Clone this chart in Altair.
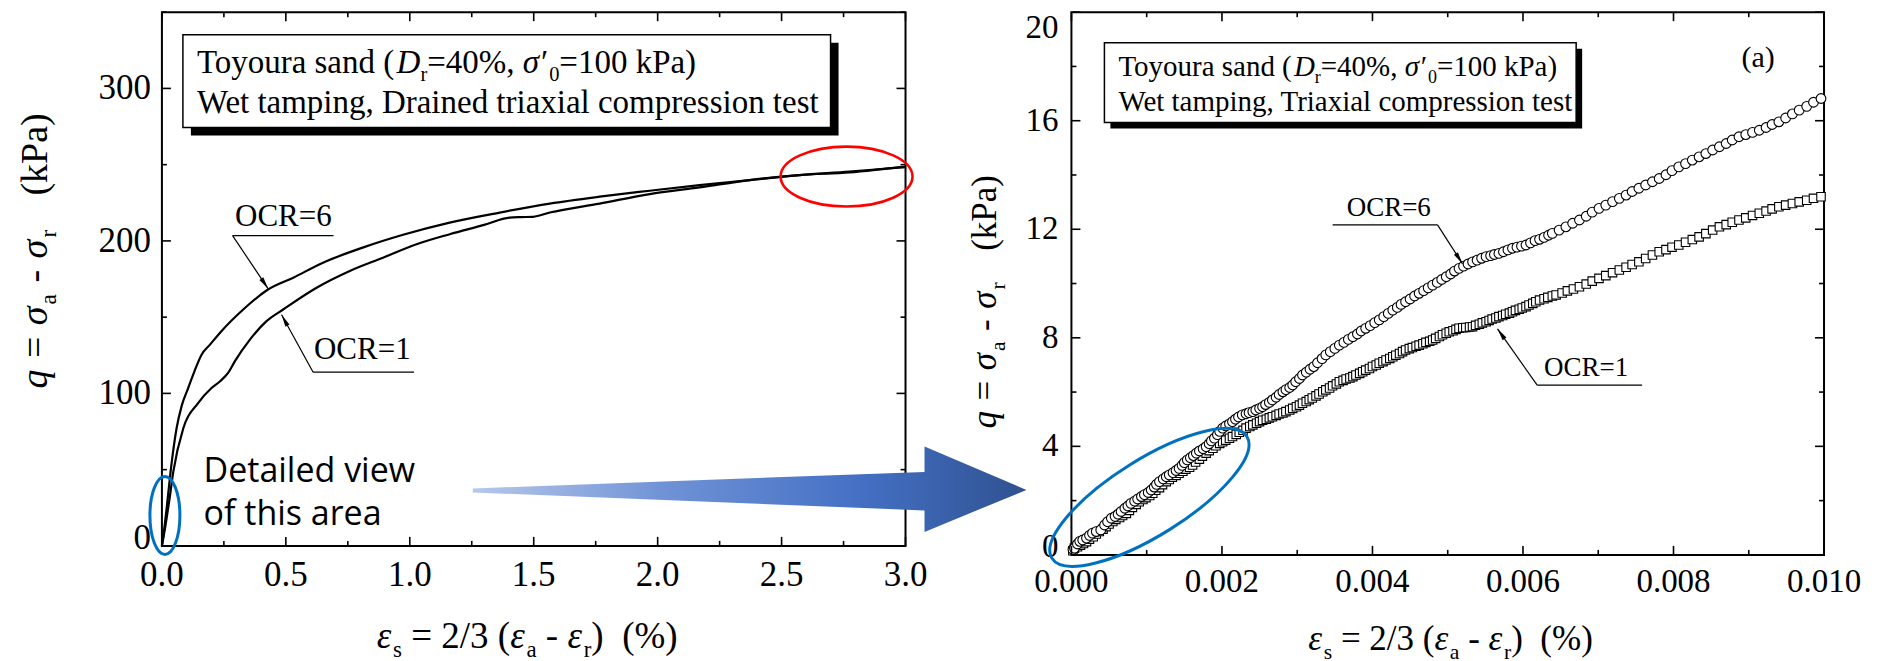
import math
import altair as alt
import pandas as pd

# ---------------- data ----------------
# Left panel: full stress-strain curves (x in %, q in kPa)
L_OCR6_X = [0, 0.010, 0.020, 0.035, 0.059, 0.080, 0.106, 0.130, 0.160, 0.194, 0.240, 0.328, 0.422, 0.530,
            0.650, 0.810, 0.973, 1.161, 1.363, 1.565, 1.766, 1.968, 2.169, 2.371, 2.573, 2.774, 2.976, 3.0]
L_OCR6_Y = [0, 12, 26, 48.7, 77, 92, 103.5, 114, 125.4, 132, 140.8, 155, 167.5, 175.9,
            185.7, 195.6, 204.0, 212, 218.6, 224.5, 229, 232.9, 236.6, 239.9, 243.2, 245.4, 248.2, 248.5]
L_OCR1_X = [0, 0.015, 0.030, 0.046, 0.086, 0.146, 0.200, 0.235, 0.267, 0.294, 0.355, 0.422, 0.489, 0.624,
            0.758, 0.892, 1.027, 1.161, 1.300, 1.403, 1.450, 1.497, 1.565, 1.766, 1.968, 2.169, 2.371,
            2.573, 2.774, 2.976, 3.0]
L_OCR1_Y = [0, 14, 30, 48.7, 77, 93.6, 103.5, 108, 113.4, 121, 135.3, 147.4, 155, 169.3,
            180.3, 189, 197.8, 204.4, 210.5, 215.3, 215.6, 215.8, 218.6, 224.5, 230.7, 235.1, 239.9,
            243.2, 244.9, 248.2, 248.5]

# Right panel: detailed view. Strain values listed in units of 1e-3 %, q in kPa
R_OCR6_XE3 = [0.02, 0.04, 0.08, 0.11, 0.15, 0.20, 0.24, 0.28, 0.33, 0.39, 0.44, 0.48, 0.53, 0.58, 0.62,
              0.66, 0.71, 0.75, 0.79, 0.84, 0.88, 0.93, 0.97, 1.02, 1.06, 1.10, 1.13, 1.17, 1.22, 1.26,
              1.30, 1.35, 1.39, 1.43, 1.47, 1.50, 1.54, 1.58, 1.62, 1.66, 1.70, 1.75, 1.79, 1.83, 1.86,
              1.90, 1.94, 1.97, 2.01, 2.05, 2.10, 2.14, 2.18, 2.22, 2.27, 2.32, 2.36, 2.41, 2.45, 2.50,
              2.54, 2.58, 2.63, 2.67, 2.72, 2.76, 2.81, 2.85, 2.90, 2.94, 2.98, 3.03, 3.07, 3.12, 3.17,
              3.22, 3.27, 3.33, 3.38, 3.44, 3.50, 3.56, 3.62, 3.68, 3.74, 3.80, 3.85, 3.91, 3.97, 4.03,
              4.09, 4.15, 4.21, 4.27, 4.33, 4.38, 4.44, 4.50, 4.56, 4.62, 4.68, 4.74, 4.80, 4.86, 4.92,
              4.98, 5.04, 5.09, 5.15, 5.21, 5.27, 5.33, 5.39, 5.45, 5.51, 5.57, 5.62, 5.68, 5.74, 5.80,
              5.86, 5.92, 5.98, 6.04, 6.10, 6.16, 6.22, 6.28, 6.34, 6.39, 6.48, 6.57, 6.66, 6.75, 6.84,
              6.92, 7.01, 7.10, 7.19, 7.28, 7.37, 7.45, 7.54, 7.63, 7.72, 7.81, 7.90, 7.98, 8.07, 8.16,
              8.25, 8.34, 8.43, 8.52, 8.61, 8.70, 8.78, 8.87, 8.96, 9.05, 9.14, 9.23, 9.31, 9.40, 9.49,
              9.58, 9.67, 9.77, 9.86, 9.96]
R_OCR6_Y = [0.20, 0.25, 0.40, 0.50, 0.55, 0.62, 0.72, 0.80, 0.86, 0.92, 1.10, 1.22, 1.35, 1.42, 1.50,
            1.60, 1.72, 1.80, 1.90, 1.98, 2.06, 2.15, 2.22, 2.30, 2.39, 2.50, 2.60, 2.70, 2.80, 2.88,
            2.95, 3.03, 3.11, 3.19, 3.30, 3.40, 3.50, 3.58, 3.66, 3.75, 3.83, 3.91, 3.99, 4.10, 4.20,
            4.30, 4.43, 4.55, 4.67, 4.75, 4.83, 4.91, 5.00, 5.08, 5.16, 5.20, 5.24, 5.28, 5.34, 5.40,
            5.46, 5.54, 5.62, 5.71, 5.81, 5.91, 6.01, 6.09, 6.17, 6.26, 6.38, 6.50, 6.63, 6.73, 6.84,
            6.94, 7.08, 7.23, 7.37, 7.49, 7.61, 7.73, 7.83, 7.94, 8.04, 8.14, 8.25, 8.35, 8.45, 8.56,
            8.66, 8.78, 8.90, 9.02, 9.12, 9.23, 9.33, 9.43, 9.54, 9.64, 9.74, 9.84, 9.94, 10.04, 10.15,
            10.25, 10.35, 10.46, 10.56, 10.64, 10.72, 10.80, 10.86, 10.93, 10.99, 11.03, 11.07, 11.11, 11.17, 11.24,
            11.30, 11.34, 11.38, 11.42, 11.50, 11.58, 11.63, 11.70, 11.78, 11.85, 11.97, 12.09, 12.22, 12.34, 12.48,
            12.63, 12.77, 12.89, 13.02, 13.14, 13.26, 13.39, 13.51, 13.63, 13.75, 13.87, 14.01, 14.16, 14.30, 14.42,
            14.55, 14.67, 14.79, 14.92, 15.04, 15.16, 15.29, 15.41, 15.49, 15.57, 15.65, 15.75, 15.86, 15.96, 16.10,
            16.25, 16.39, 16.53, 16.68, 16.82]
R_OCR1_XE3 = [0.02, 0.04, 0.08, 0.12, 0.16, 0.20, 0.24, 0.29, 0.33, 0.37, 0.42, 0.46, 0.50, 0.55, 0.59,
              0.64, 0.68, 0.73, 0.77, 0.81, 0.86, 0.90, 0.95, 0.99, 1.04, 1.08, 1.12, 1.17, 1.21, 1.26,
              1.30, 1.34, 1.39, 1.43, 1.48, 1.52, 1.57, 1.61, 1.65, 1.70, 1.74, 1.79, 1.83, 1.88, 1.92,
              1.97, 2.01, 2.05, 2.10, 2.14, 2.19, 2.23, 2.28, 2.32, 2.37, 2.41, 2.46, 2.50, 2.54, 2.59,
              2.63, 2.67, 2.72, 2.76, 2.81, 2.85, 2.90, 2.94, 2.99, 3.03, 3.07, 3.12, 3.16, 3.20, 3.25,
              3.29, 3.34, 3.38, 3.43, 3.47, 3.52, 3.56, 3.61, 3.65, 3.70, 3.74, 3.78, 3.83, 3.87, 3.91,
              3.96, 4.00, 4.05, 4.09, 4.14, 4.18, 4.23, 4.27, 4.31, 4.36, 4.40, 4.44, 4.49, 4.53, 4.58,
              4.62, 4.67, 4.71, 4.76, 4.80, 4.84, 4.89, 4.93, 4.98, 5.02, 5.07, 5.11, 5.15, 5.20, 5.24,
              5.29, 5.33, 5.37, 5.42, 5.46, 5.51, 5.55, 5.59, 5.64, 5.68, 5.73, 5.77, 5.82, 5.86, 5.90,
              5.95, 5.99, 6.04, 6.08, 6.13, 6.17, 6.22, 6.28, 6.33, 6.39, 6.44, 6.52, 6.59, 6.67, 6.75,
              6.84, 6.92, 7.01, 7.10, 7.19, 7.28, 7.37, 7.45, 7.54, 7.63, 7.72, 7.81, 7.90, 7.98, 8.07,
              8.16, 8.25, 8.34, 8.43, 8.52, 8.61, 8.70, 8.78, 8.87, 8.96, 9.05, 9.14, 9.23, 9.31, 9.40,
              9.49, 9.58, 9.67, 9.77, 9.86, 9.96]
R_OCR1_Y = [0.15, 0.25, 0.30, 0.36, 0.42, 0.49, 0.58, 0.67, 0.77, 0.86, 0.95, 1.04, 1.14, 1.23, 1.31,
            1.38, 1.45, 1.53, 1.64, 1.75, 1.86, 1.96, 2.04, 2.11, 2.19, 2.27, 2.38, 2.48, 2.59, 2.70,
            2.78, 2.86, 2.93, 3.01, 3.08, 3.16, 3.23, 3.31, 3.42, 3.53, 3.64, 3.75, 3.84, 3.93, 4.02,
            4.11, 4.17, 4.23, 4.30, 4.36, 4.44, 4.52, 4.59, 4.67, 4.73, 4.79, 4.85, 4.91, 4.96, 5.00,
            5.05, 5.09, 5.14, 5.19, 5.23, 5.28, 5.34, 5.40, 5.46, 5.52, 5.59, 5.65, 5.72, 5.78, 5.86,
            5.93, 6.01, 6.08, 6.15, 6.23, 6.30, 6.38, 6.43, 6.48, 6.52, 6.57, 6.63, 6.69, 6.75, 6.81,
            6.87, 6.94, 7.00, 7.06, 7.12, 7.18, 7.24, 7.30, 7.36, 7.42, 7.49, 7.55, 7.60, 7.64, 7.69,
            7.73, 7.78, 7.83, 7.87, 7.92, 7.98, 8.05, 8.11, 8.17, 8.22, 8.26, 8.31, 8.35, 8.37, 8.38,
            8.40, 8.41, 8.46, 8.50, 8.55, 8.59, 8.64, 8.69, 8.73, 8.78, 8.82, 8.87, 8.91, 8.96, 9.01,
            9.05, 9.10, 9.15, 9.21, 9.27, 9.33, 9.39, 9.44, 9.49, 9.54, 9.58, 9.65, 9.73, 9.80, 9.88,
            9.98, 10.09, 10.19, 10.29, 10.40, 10.50, 10.60, 10.70, 10.80, 10.92, 11.05, 11.17, 11.25, 11.34, 11.42,
            11.52, 11.62, 11.72, 11.84, 11.97, 12.09, 12.17, 12.26, 12.34, 12.42, 12.51, 12.59, 12.67, 12.75, 12.83,
            12.89, 12.95, 13.01, 13.07, 13.14, 13.20]

# Tick values
L_X_MAJOR = [0.0, 0.5, 1.0, 1.5, 2.0, 2.5, 3.0]
L_X_MINOR = [0.25, 0.75, 1.25, 1.75, 2.25, 2.75]
L_Y_MAJOR = [0, 100, 200, 300]
L_Y_MINOR = [50, 150, 250, 350]
R_X_MAJOR = [0.0, 0.002, 0.004, 0.006, 0.008, 0.010]
R_X_MINOR = [0.001, 0.003, 0.005, 0.007, 0.009]
R_Y_MAJOR = [0, 4, 8, 12, 16, 20]
R_Y_MINOR = [2, 6, 10, 14, 18]

# ---------------- geometry ----------------
LW, LH = 744, 534
RW, RH = 753, 543
SERIF = "Liberation Serif"
SANS = "Open Sans"

LXS = alt.Scale(domain=[0, 3], nice=False, zero=False)
LYS = alt.Scale(domain=[0, 350], nice=False, zero=False)
RXS = alt.Scale(domain=[0, 0.01], nice=False, zero=False)
RYS = alt.Scale(domain=[0, 20], nice=False, zero=False)

W_REG = {' ': 0.25, '(': 0.333, ')': 0.333, '%': 0.833, ',': 0.25, '-': 0.333, '/': 0.278, '=': 0.564,
         'C': 0.667, 'D': 0.722, 'O': 0.722, 'P': 0.556, 'R': 0.667, 'T': 0.611, 'W': 0.944,
         'a': 0.444, 'c': 0.444, 'd': 0.5, 'e': 0.444, 'g': 0.5, 'i': 0.278, 'k': 0.5, 'l': 0.278,
         'm': 0.778, 'n': 0.5, 'o': 0.5, 'p': 0.5, 'r': 0.333, 's': 0.389, 't': 0.278, 'u': 0.5,
         'x': 0.5, 'y': 0.5, '′': 0.25, 'ε': 0.44, 'σ': 0.55, 'q': 0.5}
W_ITA = {'D': 0.722, 'q': 0.5, 'σ': 0.55, 'ε': 0.44, '′': 0.25}


def text_width(s, size, italic=False):
    tbl = W_ITA if italic else W_REG
    return sum(tbl.get(c, W_REG.get(c, 0.5)) for c in s) * size


ONE = pd.DataFrame({"k": [0]})


def txt(s, x, y, size, italic=False, angle=0, font=SERIF, align="left", baseline="alphabetic",
        color="black"):
    kw = dict(text=s, font=font, fontSize=size, align=align, baseline=baseline, color=color)
    if italic:
        kw["fontStyle"] = "italic"
    if angle:
        kw["angle"] = angle
    return alt.Chart(ONE).mark_text(**kw).encode(x=alt.value(x), y=alt.value(y))


def rich(segments, x0, y0, size, vertical=False, space=0.25):
    layers = []
    cur = 0.0
    for s, st in segments:
        if st == "s":
            sz, shift, ital = size * 0.62, size * 0.24, False
        else:
            sz, shift, ital = size, 0.0, (st == "i")
        lead = len(s) - len(s.lstrip(" "))
        trail = len(s) - len(s.rstrip(" "))
        cur += lead * space * sz
        body = s.strip(" ")
        if body:
            if vertical:
                layers.append(txt(body, x0 + shift, y0 - cur, sz, ital, angle=270))
            else:
                layers.append(txt(body, x0 + cur, y0 + shift, sz, ital))
            cur += text_width(body, sz, ital)
        cur += trail * space * sz
    return layers


def rule(x1, y1, x2, y2, w=1.2, color="black"):
    return alt.Chart(ONE).mark_rule(color=color, strokeWidth=w).encode(
        x=alt.value(x1), y=alt.value(y1), x2=alt.value(x2), y2=alt.value(y2))


HEAD = "M 0 0 L -0.38 2 L 0.38 2 Z"


def arrow(x1, y1, x2, y2):
    ang = math.degrees(math.atan2(x2 - x1, -(y2 - y1))) % 360
    head = alt.Chart(ONE).mark_point(shape=HEAD, size=150, filled=True, color="black", opacity=1,
                                     angle=ang).encode(x=alt.value(x2), y=alt.value(y2))
    return [rule(x1, y1, x2, y2), head]


def ellipse_path(r):
    k = 0.5523
    return (f"M 1 0 C 1 {k*r:.4f} {k:.4f} {r:.4f} 0 {r:.4f} C {-k:.4f} {r:.4f} -1 {k*r:.4f} -1 0 "
            f"C -1 {-k*r:.4f} {-k:.4f} {-r:.4f} 0 {-r:.4f} C {k:.4f} {-r:.4f} 1 {-k*r:.4f} 1 0 Z")


def ellipse(cx, cy, rx, ry, color, width=3, angle=0):
    kw = dict(shape=ellipse_path(ry / rx), size=(2 * rx) ** 2, filled=False, color=color,
              strokeWidth=width, opacity=1)
    if angle:
        kw["angle"] = angle
    return alt.Chart(ONE).mark_point(**kw).encode(x=alt.value(cx), y=alt.value(cy))


def box(x1, y1, x2, y2, off):
    shadow = alt.Chart(ONE).mark_rect(color="black").encode(
        x=alt.value(x1 + off), x2=alt.value(x2 + off), y=alt.value(y1 + off), y2=alt.value(y2 + off))
    face = alt.Chart(ONE).mark_rect(fill="white", stroke="black", strokeWidth=1.5).encode(
        x=alt.value(x1), x2=alt.value(x2), y=alt.value(y1), y2=alt.value(y2))
    return [shadow, face]


def tick_layers(xmaj, xmin, ymaj, ymin, xs, ys, W, H, lmaj=9, lmin=5):
    out = []
    for vals, ln in ((xmaj, lmaj), (xmin, lmin)):
        d = pd.DataFrame({"v": vals})
        out.append(alt.Chart(d).mark_rule(color="black", strokeWidth=1.6).encode(
            x=alt.X("v:Q", scale=xs, axis=None), y=alt.value(H), y2=alt.value(H - ln)))
        out.append(alt.Chart(d).mark_rule(color="black", strokeWidth=1.6).encode(
            x=alt.X("v:Q", scale=xs, axis=None), y=alt.value(0), y2=alt.value(ln)))
    for vals, ln in ((ymaj, lmaj), (ymin, lmin)):
        d = pd.DataFrame({"v": vals})
        out.append(alt.Chart(d).mark_rule(color="black", strokeWidth=1.6).encode(
            y=alt.Y("v:Q", scale=ys, axis=None), x=alt.value(0), x2=alt.value(ln)))
        out.append(alt.Chart(d).mark_rule(color="black", strokeWidth=1.6).encode(
            y=alt.Y("v:Q", scale=ys, axis=None), x=alt.value(W), x2=alt.value(W - ln)))
    return out


def x_labels(vals, fmt, xs, size, base):
    d = pd.DataFrame({"v": vals})
    return alt.Chart(d).mark_text(font=SERIF, fontSize=size, align="center", baseline="alphabetic",
                                  color="black").encode(
        x=alt.X("v:Q", scale=xs, axis=None), y=alt.value(base), text=alt.Text("v:Q", format=fmt))


def y_labels(vals, fmt, ys, size, pad, dy=0):
    d = pd.DataFrame({"v": vals})
    kw = dict(font=SERIF, fontSize=size, align="right", baseline="middle", color="black")
    if dy:
        kw["dy"] = dy
    return alt.Chart(d).mark_text(**kw).encode(
        y=alt.Y("v:Q", scale=ys, axis=None), x=alt.value(-pad), text=alt.Text("v:Q", format=fmt))


def anchors():
    # invisible marks fixing the top-left corner of the whole figure
    return [alt.Chart(ONE).mark_rule(opacity=0, strokeWidth=1).encode(
                x=alt.value(-153), y=alt.value(100), y2=alt.value(101)),
            alt.Chart(ONE).mark_rule(opacity=0, strokeWidth=1).encode(
                x=alt.value(10), x2=alt.value(11), y=alt.value(-40))]


# ---------------- left panel ----------------
l6 = pd.DataFrame({"x": L_OCR6_X, "q": L_OCR6_Y})
l1 = pd.DataFrame({"x": L_OCR1_X, "q": L_OCR1_Y})

left_layers = []
left_layers.append(alt.Chart(l1).mark_line(color="black", strokeWidth=2.2, interpolate="monotone").encode(
    x=alt.X("x:Q", scale=LXS, axis=None), y=alt.Y("q:Q", scale=LYS, axis=None), order="x:Q"))
left_layers.append(alt.Chart(l6).mark_line(color="black", strokeWidth=2.2, interpolate="monotone").encode(
    x=alt.X("x:Q", scale=LXS, axis=None), y=alt.Y("q:Q", scale=LYS, axis=None), order="x:Q"))
left_layers += tick_layers(L_X_MAJOR, L_X_MINOR, L_Y_MAJOR, L_Y_MINOR, LXS, LYS, LW, LH)
left_layers.append(x_labels(L_X_MAJOR, ".1f", LXS, 35, LH + 40))
left_layers.append(y_labels(L_Y_MAJOR[1:], "d", LYS, 35, 11))
left_layers.append(y_labels(L_Y_MAJOR[:1], "d", LYS, 35, 11, dy=-8))

# gradient arrow, drawn as one custom symbol (path in pixels, anchored at its tail)
ARROW_PATH = "M 0 -2 L 452 -18.5 L 452 -44 L 554 -0.5 L 452 41.5 L 452 20 L 0 2 Z"
grad = alt.LinearGradient(gradient="linear", x1=0, x2=1, y1=0, y2=0, stops=[
    alt.GradientStop(color="#b7c8ea", offset=0),
    alt.GradientStop(color="#6f92d6", offset=0.35),
    alt.GradientStop(color="#4470c4", offset=0.7),
    alt.GradientStop(color="#2f5190", offset=1)])
left_layers.append(alt.Chart(ONE).mark_point(shape=ARROW_PATH, size=4, filled=True, fill=grad,
                                             strokeWidth=0, opacity=1).encode(
    x=alt.value(311), y=alt.value(478.5)))

# annotations
left_layers += [txt("OCR=6", 121.5, 213.5, 31, align="center"), rule(70.7, 223.5, 171.7, 223.5)]
left_layers += arrow(70.7, 223.5, 106.3, 276.8)
left_layers += [txt("OCR=1", 200.5, 346.8, 31, align="center"), rule(151.3, 360.2, 252.3, 360.2)]
left_layers += arrow(151.3, 360.2, 119.7, 302.8)
left_layers.append(ellipse(685, 164.5, 66, 30, "#ff0000", 2.6))
left_layers.append(ellipse(3, 503.5, 15, 39, "#0070c0", 3))
left_layers.append(txt("Detailed view", 41.7, 470.2, 34, font=SANS))
left_layers.append(txt("of this area", 41.7, 513.5, 34, font=SANS))

left_layers += box(21, 22.5, 669, 115.5, 8)
left_layers += rich([("Toyoura sand (", "n"), ("D", "i"), ("r", "s"), ("=40%, ", "n"), ("σ′", "i"),
                     ("0", "s"), ("=100 kPa)", "n")], 35, 60.5, 33)
left_layers.append(txt("Wet tamping, Drained triaxial compression test", 35, 100.5, 33))

# axis titles
left_layers += rich([("ε", "i"), ("s", "s"), (" = 2/3 (", "n"), ("ε", "i"), ("a", "s"), (" - ", "n"),
                     ("ε", "i"), ("r", "s"), (")", "n"), ("  (%)", "n")], 215, 636.5, 37, space=0.25)
left_layers += rich([("q", "i"), (" = ", "n"), ("σ", "i"), ("a", "s"), (" - ", "n"), ("σ", "i"),
                     ("r", "s"), ("   (kPa)", "n")], -115, 376.5, 38, vertical=True, space=0.3)
left_layers += anchors()

left = alt.layer(*left_layers).properties(width=LW, height=LH)

# ---------------- right panel ----------------
r6 = pd.DataFrame({"x": [v / 1000 for v in R_OCR6_XE3], "q": R_OCR6_Y})
r1 = pd.DataFrame({"x": [v / 1000 for v in R_OCR1_XE3], "q": R_OCR1_Y})

right_layers = []
right_layers.append(alt.Chart(r1).mark_point(shape="square", size=72, filled=True, fill="white",
                                             stroke="black", strokeWidth=1.1, opacity=1).encode(
    x=alt.X("x:Q", scale=RXS, axis=None), y=alt.Y("q:Q", scale=RYS, axis=None)))
right_layers.append(alt.Chart(r6).mark_point(shape="circle", size=95, filled=True, fill="white",
                                             stroke="black", strokeWidth=1.1, opacity=1).encode(
    x=alt.X("x:Q", scale=RXS, axis=None), y=alt.Y("q:Q", scale=RYS, axis=None)))
right_layers += tick_layers(R_X_MAJOR, R_X_MINOR, R_Y_MAJOR, R_Y_MINOR, RXS, RYS, RW, RH)
right_layers.append(x_labels(R_X_MAJOR, ".3f", RXS, 33, RH + 37))
right_layers.append(y_labels(R_Y_MAJOR[1:-1], "d", RYS, 33, 13))
right_layers.append(y_labels(R_Y_MAJOR[:1], "d", RYS, 33, 13, dy=-8))
right_layers.append(y_labels(R_Y_MAJOR[-1:], "d", RYS, 33, 13, dy=16))

right_layers += [txt("OCR=6", 317.5, 203.5, 27, align="center"), rule(261.3, 212.8, 366.3, 212.8)]
right_layers += arrow(366.3, 212.8, 391.3, 251.8)
right_layers += [txt("OCR=1", 515, 364, 27, align="center"), rule(466, 373.2, 571, 373.2)]
right_layers += arrow(466, 373.2, 426.3, 316.8)
right_layers.append(ellipse(78, 485.5, 115, 38, "#0070c0", 3, angle=328))
right_layers.append(txt("(a)", 687, 54.5, 30, align="center"))

right_layers += box(33, 30.5, 505, 110.5, 6)
right_layers += rich([("Toyoura sand (", "n"), ("D", "i"), ("r", "s"), ("=40%, ", "n"), ("σ′", "i"),
                      ("0", "s"), ("=100 kPa)", "n")], 47, 63.5, 29)
right_layers.append(txt("Wet tamping, Triaxial compression test", 47, 98.5, 29))

right_layers += rich([("ε", "i"), ("s", "s"), (" = 2/3 (", "n"), ("ε", "i"), ("a", "s"), (" - ", "n"),
                      ("ε", "i"), ("r", "s"), (")", "n"), ("  (%)", "n")], 237, 638.5, 35, space=0.25)
right_layers += rich([("q", "i"), (" = ", "n"), ("σ", "i"), ("a", "s"), (" - ", "n"), ("σ", "i"),
                      ("r", "s"), ("   (kPa)", "n")], -75, 416.5, 35, vertical=True, space=0.3)

right = alt.layer(*right_layers).properties(width=RW, height=RH)

chart = alt.hconcat(left, right, spacing=166, bounds="flush").properties(
    padding={"left": 0, "top": -37, "right": 10, "bottom": 5},
    background="white",
).configure_view(stroke="black", strokeWidth=2)

chart.save("out.html", embed_options={"renderer": "svg", "actions": False})
